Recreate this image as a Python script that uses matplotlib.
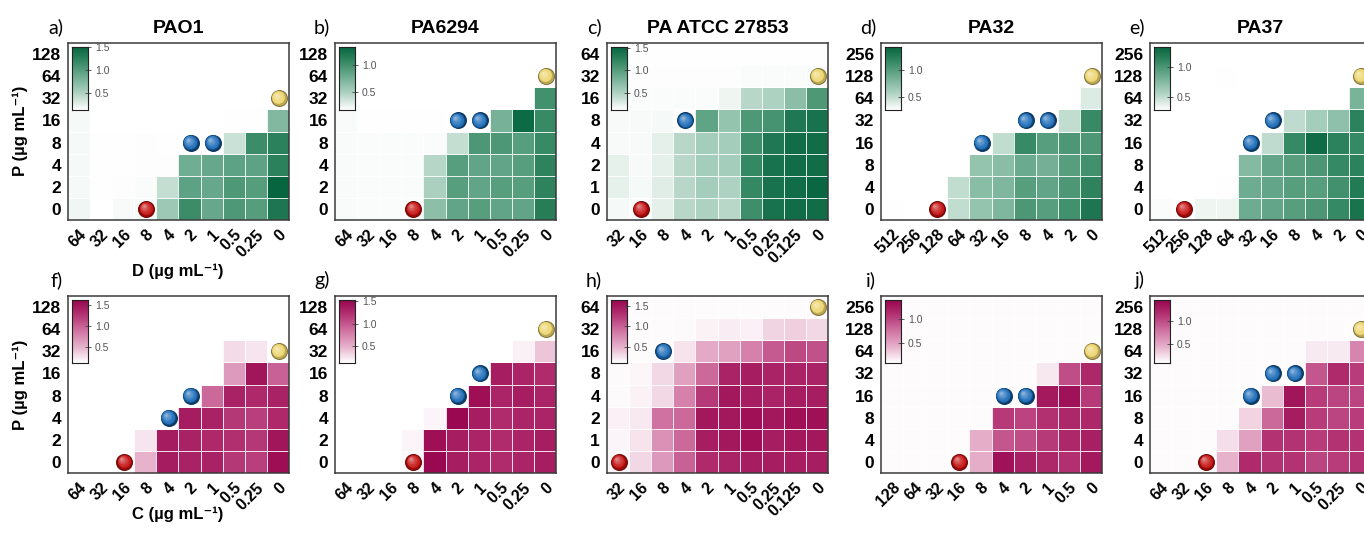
import numpy as np
import matplotlib
matplotlib.use("Agg")
import matplotlib.pyplot as plt
from matplotlib.colors import LinearSegmentedColormap, Normalize, to_rgb

plt.rcParams['font.family'] = ['Liberation Sans', 'DejaVu Sans']

# ---- data (rows listed from top = highest P down to P = 0) ----
x_a = ['64', '32', '16', '8', '4', '2', '1', '0.5', '0.25', '0']
x_c = ['32', '16', '8', '4', '2', '1', '0.5', '0.25', '0.125', '0']
x_d = ['512', '256', '128', '64', '32', '16', '8', '4', '2', '0']
x_i = ['128', '64', '32', '16', '8', '4', '2', '1', '0.5', '0']
y_a = ['0', '2', '4', '8', '16', '32', '64', '128']
y_c = ['0', '1', '2', '4', '8', '16', '32', '64']
y_d = ['0', '4', '8', '16', '32', '64', '128', '256']

a_vals = [[0.16, 0.12, 0.12, 0.12, 0.12, 0.12, 0.12, 0.12, 0.12, 0.12],
          [0.16, 0.12, 0.12, 0.12, 0.12, 0.12, 0.12, 0.12, 0.12, 0.12],
          [0.17, 0.12, 0.12, 0.12, 0.12, 0.12, 0.12, 0.12, 0.12, 0.12],
          [0.18, 0.13, 0.13, 0.13, 0.13, 0.13, 0.13, 0.14, 0.14, 0.75],
          [0.18, 0.14, 0.14, 0.15, 0.14, 0.12, 0.12, 0.38, 1.15, 1.25],
          [0.18, 0.14, 0.14, 0.15, 0.15, 0.85, 0.90, 0.95, 0.95, 1.25],
          [0.18, 0.14, 0.15, 0.16, 0.40, 0.95, 0.90, 1.05, 1.00, 1.50],
          [0.20, 0.12, 0.17, 0.17, 0.60, 1.15, 0.90, 1.05, 1.00, 1.35]]
b_vals = [[0.15] * 10,
          [0.15] * 10,
          [0.18, 0.17, 0.17, 0.17, 0.17, 0.17, 0.17, 0.17, 0.17, 1.00],
          [0.20, 0.18, 0.18, 0.18, 0.18, 0.17, 0.17, 0.75, 1.30, 1.05],
          [0.20, 0.19, 0.19, 0.19, 0.19, 0.40, 0.95, 0.95, 0.90, 1.05],
          [0.20, 0.19, 0.19, 0.19, 0.45, 0.90, 0.85, 0.85, 0.90, 1.10],
          [0.20, 0.19, 0.19, 0.19, 0.50, 0.90, 0.85, 0.90, 0.90, 1.10],
          [0.20, 0.19, 0.19, 0.19, 0.65, 0.85, 0.90, 0.85, 0.85, 1.15]]
c_vals = [[0.13] * 10,
          [0.14, 0.14, 0.14, 0.14, 0.14, 0.14, 0.15, 0.15, 0.15, 0.16],
          [0.15, 0.15, 0.15, 0.15, 0.15, 0.20, 0.45, 0.50, 0.70, 1.05],
          [0.16, 0.16, 0.17, 0.14, 0.95, 0.65, 1.05, 1.10, 1.35, 1.40],
          [0.16, 0.16, 0.25, 0.45, 0.55, 0.55, 1.15, 1.35, 1.45, 1.45],
          [0.24, 0.16, 0.25, 0.45, 0.55, 0.55, 1.20, 1.40, 1.45, 1.45],
          [0.24, 0.17, 0.27, 0.45, 0.55, 0.50, 1.20, 1.40, 1.45, 1.50],
          [0.17, 0.15, 0.25, 0.45, 0.50, 0.45, 1.15, 1.40, 1.45, 1.45]]
d_vals = [[0.24] * 10,
          [0.24] * 10,
          [0.25] * 9 + [0.40],
          [0.25] * 8 + [0.50, 1.15],
          [0.25, 0.25, 0.25, 0.25, 0.25, 0.50, 1.15, 1.00, 1.05, 1.05],
          [0.25, 0.25, 0.25, 0.26, 0.70, 0.75, 0.90, 0.85, 1.00, 1.10],
          [0.25, 0.25, 0.25, 0.50, 0.75, 0.80, 1.00, 0.95, 1.05, 1.20],
          [0.27, 0.25, 0.25, 0.50, 0.70, 0.80, 1.05, 1.00, 1.10, 1.30]]
e_vals = [[0.25] * 10,
          [0.25, 0.25, 0.25, 0.28, 0.25, 0.25, 0.25, 0.25, 0.25, 0.25],
          [0.25] * 9 + [0.80],
          [0.25] * 6 + [0.50, 0.60, 0.70, 1.15],
          [0.25] * 5 + [0.50, 1.10, 1.30, 1.15, 1.10],
          [0.25, 0.25, 0.25, 0.26, 0.75, 0.90, 0.95, 1.00, 1.10, 1.15],
          [0.25, 0.25, 0.25, 0.28, 0.85, 0.90, 0.95, 0.95, 1.05, 1.20],
          [0.29, 0.26, 0.33, 0.33, 0.85, 0.90, 0.95, 1.00, 1.10, 1.25]]
f_vals = [[0.12] * 10,
          [0.12] * 10,
          [0.12] * 7 + [0.30, 0.25, 0.13],
          [0.12] * 7 + [0.65, 1.50, 1.00],
          [0.12] * 6 + [0.95, 1.40, 1.35, 1.40],
          [0.12] * 5 + [1.45, 1.40, 1.25, 1.20, 1.35],
          [0.12, 0.12, 0.12, 0.25, 1.45, 1.40, 1.35, 1.30, 1.25, 1.50],
          [0.12, 0.12, 0.12, 0.50, 1.45, 1.40, 1.40, 1.25, 1.20, 1.55]]
g_vals = [[0.12] * 10,
          [0.12] * 10,
          [0.12] * 8 + [0.20, 0.40],
          [0.12] * 7 + [1.35, 1.30, 1.25],
          [0.12] * 6 + [1.45, 1.30, 1.35, 1.30],
          [0.12] * 4 + [0.18, 1.50, 1.35, 1.25, 1.30, 1.30],
          [0.12] * 3 + [0.18, 1.45, 1.35, 1.30, 1.25, 1.30, 1.35],
          [0.12] * 3 + [0.17, 1.50, 1.35, 1.30, 1.25, 1.30, 1.35]]
h_vals = [[0.12] * 10,
          [0.12, 0.12, 0.12, 0.13, 0.17, 0.20, 0.18, 0.32, 0.35, 0.30],
          [0.12, 0.12, 0.12, 0.25, 0.55, 0.60, 0.80, 1.05, 1.15, 1.10],
          [0.13, 0.15, 0.30, 0.60, 0.95, 1.40, 1.45, 1.40, 1.40, 1.40],
          [0.13, 0.17, 0.30, 0.80, 1.25, 1.50, 1.45, 1.40, 1.45, 1.45],
          [0.18, 0.22, 0.90, 0.95, 1.50, 1.50, 1.55, 1.50, 1.55, 1.55],
          [0.16, 0.25, 0.70, 0.95, 1.45, 1.50, 1.55, 1.45, 1.50, 1.50],
          [0.15, 0.30, 0.65, 1.00, 1.35, 1.40, 1.45, 1.45, 1.45, 1.45]]
i_vals = [[0.12] * 10,
          [0.12] * 10,
          [0.12] * 10,
          [0.12] * 7 + [0.20, 0.95, 1.15],
          [0.12] * 7 + [1.25, 1.30, 1.05],
          [0.12] * 5 + [1.05, 1.00, 1.10, 1.15, 1.15],
          [0.12] * 4 + [0.45, 0.90, 0.95, 1.05, 1.15, 1.20],
          [0.12] * 4 + [0.45, 1.30, 1.20, 1.15, 1.10, 1.25]]
j_vals = [[0.12] * 10,
          [0.12] * 10,
          [0.12] * 7 + [0.20, 0.20, 0.70],
          [0.12] * 7 + [0.95, 1.20, 1.10],
          [0.12] * 5 + [0.40, 1.35, 1.10, 1.05, 1.05],
          [0.12] * 4 + [0.30, 0.85, 1.30, 1.10, 1.05, 1.10],
          [0.12] * 3 + [0.25, 0.55, 1.15, 1.15, 1.10, 1.15, 1.15],
          [0.12] * 3 + [0.45, 1.20, 1.15, 1.15, 1.05, 1.10, 1.15]]

# sphere positions as (x label, y label)
red_pos = {'a': ('8', '0'), 'b': ('8', '0'), 'c': ('16', '0'), 'd': ('128', '0'), 'e': ('256', '0'),
           'f': ('16', '0'), 'g': ('8', '0'), 'h': ('32', '0'), 'i': ('16', '0'), 'j': ('16', '0')}
blue_pos = {'a': [('2', '8'), ('1', '8')], 'b': [('2', '16'), ('1', '16')], 'c': [('4', '8')],
            'd': [('32', '16'), ('8', '32'), ('4', '32')], 'e': [('32', '16'), ('16', '32')],
            'f': [('4', '4'), ('2', '8')], 'g': [('2', '8'), ('1', '16')], 'h': [('8', '16')],
            'i': [('4', '16'), ('2', '16')], 'j': [('4', '16'), ('2', '32'), ('1', '32')]}
yellow_pos = {'a': ('0', '32'), 'b': ('0', '64'), 'c': ('0', '32'), 'd': ('0', '128'), 'e': ('0', '128'),
              'f': ('0', '32'), 'g': ('0', '64'), 'h': ('0', '64'), 'i': ('0', '64'), 'j': ('0', '128')}

titles = ['PAO1', 'PA6294', 'PA ATCC 27853', 'PA32', 'PA37']
letters = ['a', 'b', 'c', 'd', 'e', 'f', 'g', 'h', 'i', 'j']
panel_vals = [a_vals, b_vals, c_vals, d_vals, e_vals, f_vals, g_vals, h_vals, i_vals, j_vals]
panel_x = [x_a, x_a, x_c, x_d, x_d, x_a, x_a, x_c, x_i, x_a]
panel_y = [y_a, y_a, y_c, y_d, y_d, y_a, y_a, y_c, y_d, y_d]
cbar_lo = [0.13, 0.17, 0.12, 0.26, 0.27, 0.12, 0.13, 0.10, 0.10, 0.10]
cbar_hi = [1.50, 1.33, 1.52, 1.43, 1.35, 1.62, 1.52, 1.64, 1.38, 1.46]
cbar_ticks = [[0.5, 1.0, 1.5], [0.5, 1.0], [0.5, 1.0, 1.5], [0.5, 1.0], [0.5, 1.0],
              [0.5, 1.0, 1.5], [0.5, 1.0, 1.5], [0.5, 1.0, 1.5], [0.5, 1.0], [0.5, 1.0]]

pos = [0, 0.1, 0.25, 0.55, 0.8, 1]
green = LinearSegmentedColormap.from_list(
    'gr', list(zip(pos, ['#ffffff', '#e2eee8', '#b3d5c6', '#6aaa8e', '#2f845f', '#076640'])))
pink = LinearSegmentedColormap.from_list(
    'pk', list(zip(pos, ['#ffffff', '#f5e1eb', '#e7b3cc', '#cc6a9c', '#b02c6d', '#98064f'])))


def ball(ax, x, y, col):
    base = np.array(to_rgb(col))
    n = 8
    for k in range(n):
        t = k / (n - 1)
        if k == 0:
            c = base * 0.55
        elif k == 1:
            c = base * 0.8
        else:
            c = base + (1 - base) * 0.5 * t ** 1.6
        c = np.clip(c, 0, 1)
        s = 150 * (1 - 0.85 * t) ** 2
        ax.scatter(x - 0.13 * t, y + 0.13 * t, s=s, color=c, lw=0, zorder=5 + k)


W, H = 1364, 533
fig = plt.figure(figsize=(W / 100, H / 100), dpi=100)
lefts = [68, 335, 607, 881, 1150]
tops = [43, 296]
aw, ah = 221, 177

for p in range(10):
    r, c = divmod(p, 5)
    ax = fig.add_axes([lefts[c] / W, 1 - (tops[r] + ah) / H, aw / W, ah / H])
    cmap = green if r == 0 else pink
    lo, hi = cbar_lo[p], cbar_hi[p]
    norm = Normalize(lo, hi)
    vals = np.array(panel_vals[p])[::-1]
    xl, yl = panel_x[p], panel_y[p]
    ax.pcolormesh(np.arange(11), np.arange(9), vals, cmap=cmap, norm=norm,
                  edgecolors=(1, 1, 1, 0.85), linewidth=0.7)
    ax.set_xlim(0, 10)
    ax.set_ylim(0, 8)
    ax.set_xticks(np.arange(10) + 0.5)
    ax.set_xticklabels(xl, rotation=45, ha='right', rotation_mode='anchor',
                       fontsize=11.5, fontweight='bold')
    ax.set_yticks(np.arange(8) + 0.5)
    ax.set_yticklabels(yl, fontsize=12.5, fontweight='bold')
    ax.tick_params(length=0, pad=5)
    for sp in ax.spines.values():
        sp.set_color('#3a3a3a')
        sp.set_linewidth(1.1)

    L = letters[p]
    xr, yr = red_pos[L]
    ball(ax, xl.index(xr) + 0.55, yl.index(yr) + 0.5, '#c40d0d')
    for xb, yb in blue_pos[L]:
        ball(ax, xl.index(xb) + 0.55, yl.index(yb) + 0.5, '#1a6bb8')
    xy_, yy_ = yellow_pos[L]
    ball(ax, xl.index(xy_) + 0.55, yl.index(yy_) + 0.5, '#ecd36a')

    # colour bar inset
    cax = ax.inset_axes([4 / aw, 1 - 67 / ah, 16 / aw, 63 / ah])
    grad = np.linspace(lo, hi, 200).reshape(-1, 1)
    cax.imshow(grad, cmap=cmap, norm=norm, aspect='auto', origin='lower',
               extent=[0, 1, lo, hi])
    cax.set_xticks([])
    cax.yaxis.tick_right()
    cax.set_yticks(cbar_ticks[p])
    cax.set_yticklabels(['%.1f' % t for t in cbar_ticks[p]])
    cax.tick_params(axis='y', direction='inout', length=4, width=0.6, color='#444444',
                    labelsize=7.5, labelcolor='#555555', pad=3)
    for sp in cax.spines.values():
        sp.set_color('#222222')
        sp.set_linewidth(0.8)
    cax.set_zorder(20)

    if r == 0:
        ax.set_title(titles[c], fontsize=14, fontweight='bold', pad=7)
    fig.text((lefts[c] - 5) / W, 1 - (tops[r] - 16) / H, L + ')', ha='right', va='center',
             fontsize=14, family=['Lato', 'DejaVu Sans'])

fig.text(20 / W, 1 - 131 / H, 'P (µg mL⁻¹)', rotation=90, ha='center', va='center',
         fontsize=12, fontweight='bold')
fig.text(20 / W, 1 - 385 / H, 'P (µg mL⁻¹)', rotation=90, ha='center', va='center',
         fontsize=12, fontweight='bold')
fig.text(178 / W, 1 - 271 / H, 'D (µg mL⁻¹)', ha='center', va='center',
         fontsize=12, fontweight='bold')
fig.text(178 / W, 1 - 514 / H, 'C (µg mL⁻¹)', ha='center', va='center',
         fontsize=12, fontweight='bold')

fig.savefig('out.png', dpi=100)
